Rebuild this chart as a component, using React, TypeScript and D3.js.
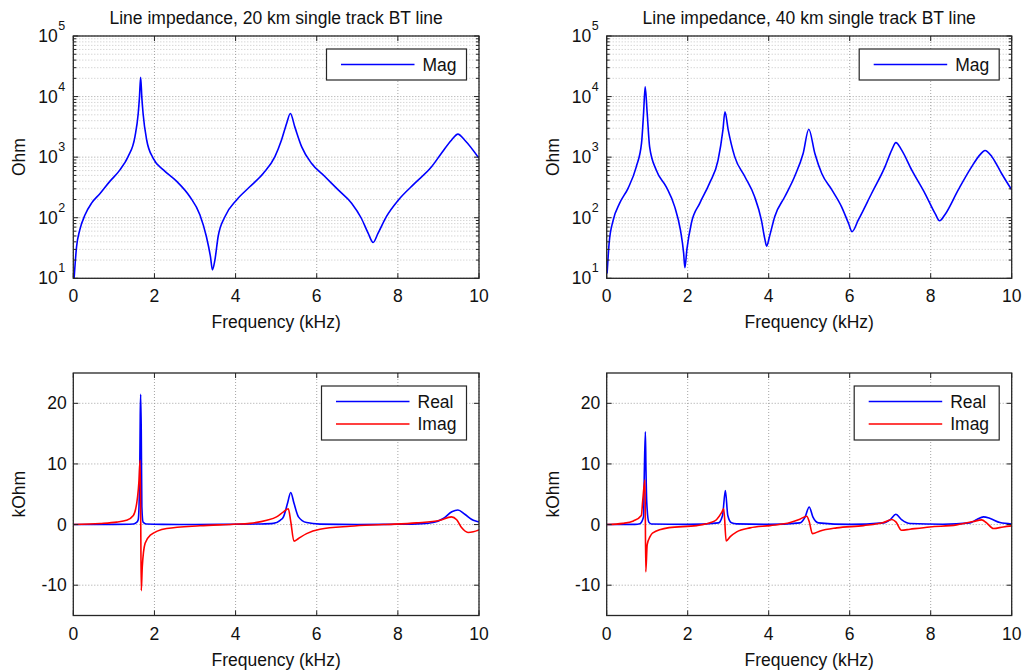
import React from 'react';
import * as d3 from 'd3';

// ---------- data ----------
const FREQ_TICKS = [0, 2, 4, 6, 8, 10];
const MAG_TICKS = [10, 100, 1000, 10000, 100000];
const KOHM_TICKS = [-10, 0, 10, 20];

// 20 km line, |Z| in Ohm
const mag20Freq = [0.02, 0.08, 0.16, 0.29, 0.45, 0.66, 0.9, 1.15, 1.35, 1.52, 1.6, 1.63, 1.66, 1.69, 1.72, 1.81, 1.97, 2.22, 2.55, 2.87, 3.12, 3.28, 3.38, 3.43, 3.49, 3.57, 3.74, 4.02, 4.35, 4.68, 4.97, 5.13, 5.26, 5.35, 5.46, 5.63, 5.87, 6.2, 6.53, 6.86, 7.1, 7.27, 7.39, 7.51, 7.72, 8.01, 8.42, 8.83, 9.07, 9.32, 9.48, 9.65, 10];
const mag20Ohm = [10, 33, 63, 112, 174, 251, 398, 617, 1020, 2190, 5250, 9500, 20900, 9500, 5250, 1900, 955, 617, 398, 224, 112, 49, 23, 13.8, 20, 49, 105, 195, 324, 537, 1020, 1900, 3630, 5250, 3160, 1480, 794, 479, 288, 174, 98, 55, 39, 55, 105, 195, 372, 692, 1150, 1900, 2400, 1900, 955];

// 40 km line, |Z| in Ohm
const mag40Freq = [0.01, 0.06, 0.16, 0.32, 0.53, 0.73, 0.86, 0.91, 0.95, 1.0, 1.06, 1.22, 1.47, 1.68, 1.82, 1.9, 1.93, 1.98, 2.09, 2.3, 2.54, 2.75, 2.87, 2.92, 3.0, 3.16, 3.41, 3.65, 3.82, 3.9, 3.95, 4.02, 4.15, 4.4, 4.64, 4.85, 4.99, 5.14, 5.31, 5.56, 5.8, 5.97, 6.06, 6.21, 6.54, 6.87, 7.04, 7.14, 7.28, 7.53, 7.86, 8.11, 8.22, 8.35, 8.68, 9.01, 9.22, 9.34, 9.51, 9.75, 10];
const mag40Ohm = [12, 38, 91, 174, 309, 692, 1700, 5250, 14500, 5250, 1480, 617, 324, 151, 63, 26, 15, 30, 81, 174, 372, 891, 2820, 5620, 2820, 1020, 479, 224, 91, 46, 34, 49, 105, 224, 479, 1150, 2880, 1150, 537, 288, 151, 81, 59, 91, 251, 692, 1320, 1740, 1320, 617, 251, 117, 89, 112, 288, 692, 1100, 1290, 1020, 537, 288];

// 20 km line, Re/Im in kOhm
const re20Freq = [0, 1.0, 1.48, 1.56, 1.6, 1.635, 1.65, 1.66, 1.675, 1.69, 1.72, 1.8, 2.2, 3.0, 4.0, 4.6, 4.93, 5.1, 5.18, 5.28, 5.36, 5.44, 5.55, 5.75, 6.08, 7.0, 8.0, 8.6, 8.87, 9.12, 9.33, 9.48, 9.65, 9.86, 10];
const re20kOhm = [0, 0.03, 0.1, 0.35, 0.8, 7.3, 18, 21.5, 15.6, 2.9, 0.4, 0.1, 0.03, 0.02, 0.05, 0.1, 0.2, 0.7, 1.27, 3.5, 5.3, 3.5, 1.27, 0.33, 0.08, 0.02, 0.05, 0.15, 0.33, 1.0, 2.1, 2.4, 1.7, 0.7, 0.43];
const im20Freq = [0, 0.66, 1.07, 1.31, 1.48, 1.585, 1.62, 1.645, 1.66, 1.675, 1.7, 1.77, 1.89, 2.3, 3.12, 3.94, 4.35, 4.77, 5.01, 5.18, 5.3, 5.36, 5.44, 5.55, 5.75, 6.08, 6.82, 7.64, 8.46, 9.04, 9.32, 9.45, 9.57, 9.73, 9.86, 10];
const im20kOhm = [0, 0.17, 0.4, 0.7, 1.5, 4.6, 7.3, 10.6, 3, -10.9, -7, -3.1, -1.8, -0.66, -0.2, 0.05, 0.2, 0.7, 1.27, 2.1, 2.6, 0.5, -2.76, -2.3, -1.5, -0.77, -0.28, 0, 0.28, 0.72, 1.26, 0.8, -0.5, -1.3, -1.2, -0.9];

// 40 km line, Re/Im in kOhm
const re40Freq = [0, 0.7, 0.82, 0.91, 0.93, 0.955, 0.97, 0.99, 1.04, 1.1, 2.0, 2.76, 2.86, 2.93, 2.99, 3.08, 3.21, 4.0, 4.77, 4.9, 5.0, 5.09, 5.23, 6.0, 6.83, 7.0, 7.14, 7.28, 7.49, 8.3, 8.97, 9.14, 9.3, 9.47, 9.71, 10];
const re40kOhm = [0, 0.03, 0.15, 1.3, 9, 15.3, 9, 3.5, 0.4, 0.1, 0.03, 0.28, 1.5, 5.6, 1.5, 0.3, 0.12, 0.03, 0.28, 1.27, 2.9, 1.27, 0.28, 0.03, 0.28, 0.83, 1.7, 0.83, 0.17, 0.05, 0.28, 0.83, 1.27, 1.0, 0.33, 0.1];
const im40Freq = [0, 0.4, 0.66, 0.855, 0.89, 0.946, 0.965, 1.0, 1.07, 1.13, 1.54, 2.22, 2.55, 2.71, 2.84, 2.89, 2.95, 3.05, 3.21, 3.54, 4.03, 4.53, 4.77, 4.94, 5.0, 5.08, 5.27, 5.68, 6.34, 6.83, 7.04, 7.14, 7.28, 7.49, 7.98, 8.64, 9.05, 9.26, 9.38, 9.55, 9.79, 10];
const im40kOhm = [0, 0.2, 0.6, 1.5, 4.0, 7.4, -7.8, -3.3, -2.0, -1.4, -0.5, -0.17, 0.28, 0.8, 2.0, 2.6, -2.7, -2.0, -1.2, -0.55, -0.17, 0.33, 0.88, 1.38, 0.5, -1.5, -1.05, -0.55, -0.17, 0.33, 0.83, 0.44, -0.94, -0.77, -0.39, -0.05, 0.5, 0.77, 0.28, -0.66, -0.39, -0.22];

const zip = (xs: number[], ys: number[]) => xs.map((x, i) => [x, ys[i]] as [number, number]);

// ---------- layout ----------
const W = 1025;
const H = 671;
const FONT = 'Liberation Sans, Arial, Helvetica, sans-serif';
const FS = 17.5;
const BLUE = '#0000ff';
const RED = '#ff0000';

type Series = { name: string; color: string; data: [number, number][] };

function Panel(props: {
  id: string;
  x0: number; x1: number; y0: number; y1: number;
  kind: 'log' | 'lin';
  title?: string;
  yLabel: string;
  series: Series[];
}) {
  const { id, x0, x1, y0, y1, kind, title, yLabel, series } = props;
  const xs = d3.scaleLinear().domain([0, 10]).range([x0, x1]);
  const ys: any = kind === 'log'
    ? d3.scaleLog().domain([10, 1e5]).range([y1, y0])
    : d3.scaleLinear().domain([-15, 25]).range([y1, y0]);
  const line = d3.line<[number, number]>()
    .x(d => xs(d[0]))
    .y(d => ys(d[1]))
    .curve(d3.curveMonotoneX);

  const yTicks = kind === 'log' ? MAG_TICKS : KOHM_TICKS;
  const minor: number[] = [];
  if (kind === 'log') {
    for (let e = 1; e < 5; e++) for (let m = 2; m <= 9; m++) minor.push(m * Math.pow(10, e));
  }
  const tl = 5;
  const cx = (x0 + x1) / 2;
  const cy = (y0 + y1) / 2;
  const legendW = kind === 'log' ? 140 : 145;
  const legendH = kind === 'log' ? 31 : 54;
  const lx = x1 - 12.5 - legendW;
  const ly = y0 + 13;

  return (
    <g>
      <defs>
        <clipPath id={`clip-${id}`}>
          <rect x={x0} y={y0} width={x1 - x0} height={y1 - y0} />
        </clipPath>
      </defs>
      <rect x={x0} y={y0} width={x1 - x0} height={y1 - y0} fill="#fff" />
      {minor.map(v => (
        <line key={'mg' + v} x1={x0} x2={x1} y1={ys(v)} y2={ys(v)} stroke="#b8b8b8" strokeWidth={0.8} strokeDasharray="1 2" />
      ))}
      {yTicks.map(v => (
        <line key={'yg' + v} x1={x0} x2={x1} y1={ys(v)} y2={ys(v)} stroke="#9a9a9a" strokeWidth={0.9} strokeDasharray="1 2" />
      ))}
      {FREQ_TICKS.map(v => (
        <line key={'xg' + v} x1={xs(v)} x2={xs(v)} y1={y0} y2={y1} stroke="#9a9a9a" strokeWidth={0.9} strokeDasharray="1 2" />
      ))}
      <g clipPath={`url(#clip-${id})`}>
        {series.map(s => (
          <path key={s.name} d={line(s.data) || ''} fill="none" stroke={s.color} strokeWidth={1.6} strokeLinejoin="round" />
        ))}
      </g>
      {FREQ_TICKS.map(v => (
        <g key={'xt' + v}>
          <line x1={xs(v)} x2={xs(v)} y1={y1} y2={y1 - tl} stroke="#222" />
          <line x1={xs(v)} x2={xs(v)} y1={y0} y2={y0 + tl} stroke="#222" />
          <text x={xs(v)} y={y1 + 24} textAnchor="middle" fontSize={FS} fontFamily={FONT} fill="#111">{v}</text>
        </g>
      ))}
      {minor.map(v => (
        <g key={'mt' + v}>
          <line x1={x0} x2={x0 + 3} y1={ys(v)} y2={ys(v)} stroke="#222" />
          <line x1={x1} x2={x1 - 3} y1={ys(v)} y2={ys(v)} stroke="#222" />
        </g>
      ))}
      {yTicks.map(v => (
        <g key={'yt' + v}>
          <line x1={x0} x2={x0 + tl} y1={ys(v)} y2={ys(v)} stroke="#222" />
          <line x1={x1} x2={x1 - tl} y1={ys(v)} y2={ys(v)} stroke="#222" />
          {kind === 'log' ? (
            <g>
              <text x={x0 - 15.5} y={ys(v) + 6} textAnchor="end" fontSize={FS} fontFamily={FONT} fill="#111">10</text>
              <text x={x0 - 15} y={ys(v) - 6} textAnchor="start" fontSize={12.5} fontFamily={FONT} fill="#111">{Math.round(Math.log10(v))}</text>
            </g>
          ) : (
            <text x={x0 - 6.5} y={ys(v) + 6} textAnchor="end" fontSize={FS} fontFamily={FONT} fill="#111">{v}</text>
          )}
        </g>
      ))}
      <rect x={x0} y={y0} width={x1 - x0} height={y1 - y0} fill="none" stroke="#262626" strokeWidth={1.3} />
      {title && (
        <text x={cx} y={y0 - 12} textAnchor="middle" fontSize={FS} fontFamily={FONT} fill="#111">{title}</text>
      )}
      <text x={cx} y={y1 + 50} textAnchor="middle" fontSize={FS} fontFamily={FONT} fill="#111">Frequency (kHz)</text>
      <text transform={`translate(${x0 - 48},${cy}) rotate(-90)`} textAnchor="middle" fontSize={FS} fontFamily={FONT} fill="#111">{yLabel}</text>
      <rect x={lx} y={ly} width={legendW} height={legendH} fill="#fff" stroke="#262626" strokeWidth={1.2} />
      {series.map((s, i) => (
        <g key={'lg' + s.name}>
          <line x1={lx + 14.5} x2={lx + 88} y1={ly + 15.5 + i * 22.5} y2={ly + 15.5 + i * 22.5} stroke={s.color} strokeWidth={1.6} />
          <text x={lx + 96} y={ly + 21.5 + i * 22.5} fontSize={FS} fontFamily={FONT} fill="#111">{s.name}</text>
        </g>
      ))}
    </g>
  );
}

export default function App() {
  const LX0 = 73.3, LX1 = 479;
  const RX0 = 606.7, RX1 = 1011.7;
  const TY0 = 36, TY1 = 278.3;
  const BY0 = 373, BY1 = 615.5;
  return (
    <svg width={W} height={H} style={{ position: 'absolute', left: 0, top: 0, background: '#fff' }}>
      <rect width={W} height={H} fill="#fff" />
      <Panel id="tl" x0={LX0} x1={LX1} y0={TY0} y1={TY1} kind="log"
        title="Line impedance, 20 km single track BT line" yLabel="Ohm"
        series={[{ name: 'Mag', color: BLUE, data: zip(mag20Freq, mag20Ohm) }]} />
      <Panel id="tr" x0={RX0} x1={RX1} y0={TY0} y1={TY1} kind="log"
        title="Line impedance, 40 km single track BT line" yLabel="Ohm"
        series={[{ name: 'Mag', color: BLUE, data: zip(mag40Freq, mag40Ohm) }]} />
      <Panel id="bl" x0={LX0} x1={LX1} y0={BY0} y1={BY1} kind="lin" yLabel="kOhm"
        series={[
          { name: 'Real', color: BLUE, data: zip(re20Freq, re20kOhm) },
          { name: 'Imag', color: RED, data: zip(im20Freq, im20kOhm) },
        ]} />
      <Panel id="br" x0={RX0} x1={RX1} y0={BY0} y1={BY1} kind="lin" yLabel="kOhm"
        series={[
          { name: 'Real', color: BLUE, data: zip(re40Freq, re40kOhm) },
          { name: 'Imag', color: RED, data: zip(im40Freq, im40kOhm) },
        ]} />
    </svg>
  );
}
